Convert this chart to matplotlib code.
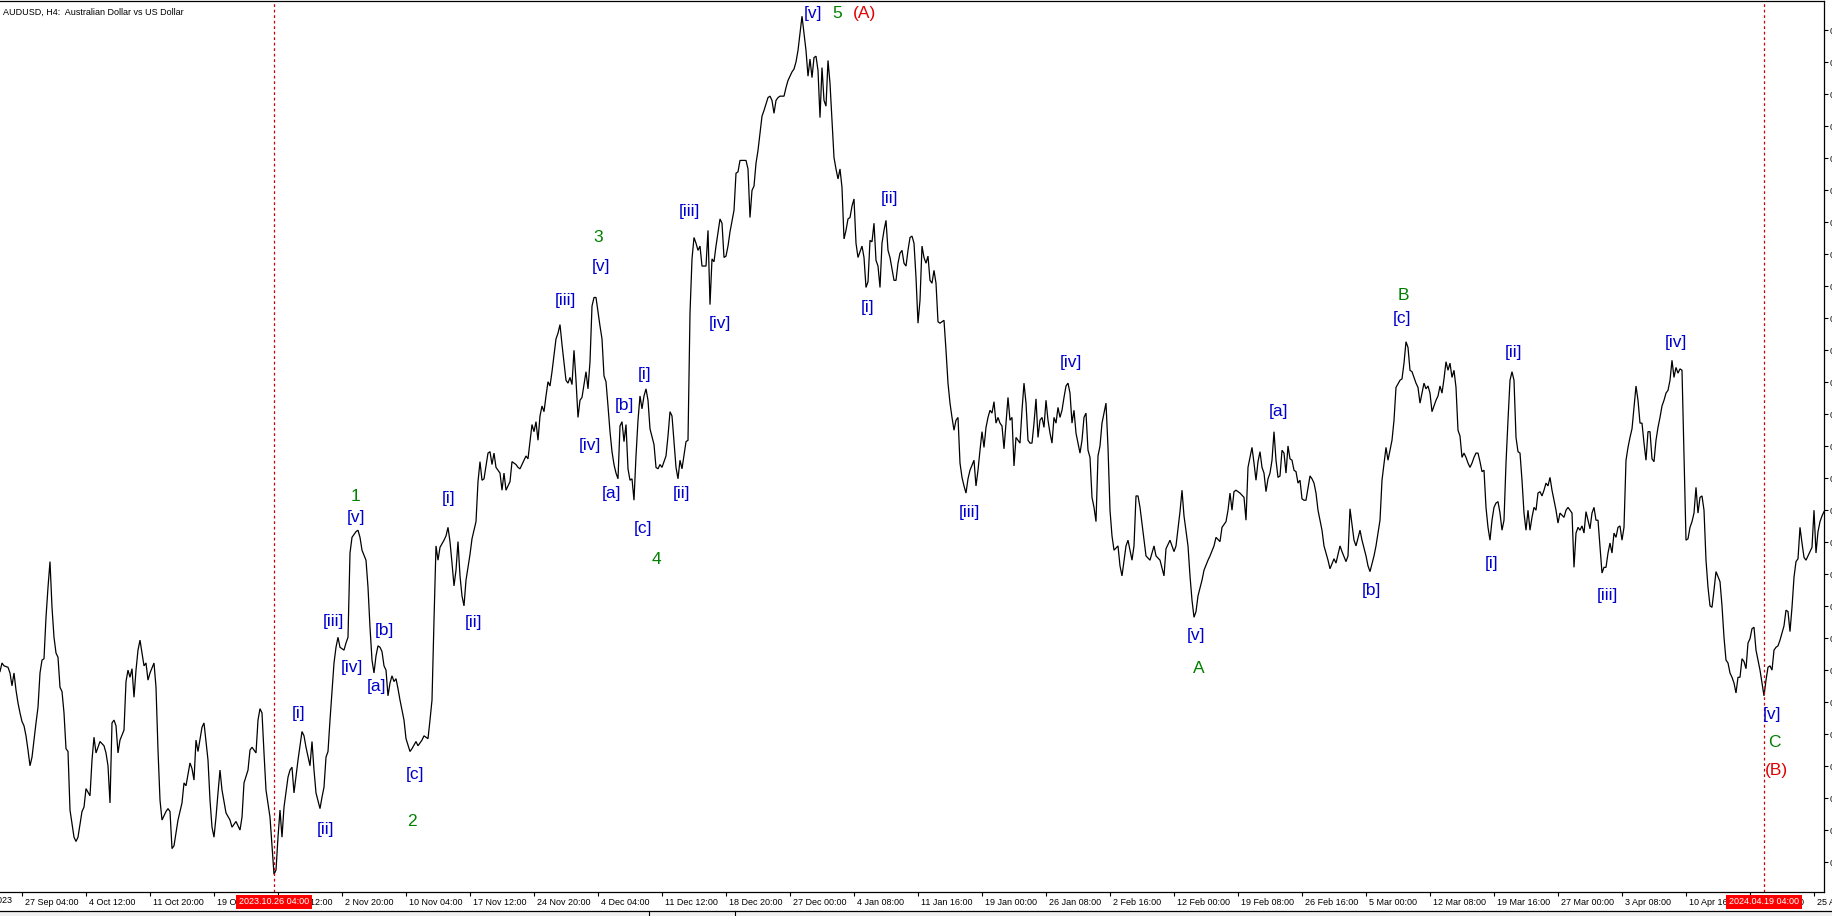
import matplotlib
matplotlib.use('Agg')
import matplotlib.pyplot as plt
import matplotlib.transforms as mtransforms
from matplotlib.lines import Line2D
from matplotlib.patches import Rectangle

plt.rcParams['font.family'] = ['Liberation Sans', 'DejaVu Sans']

# AUDUSD H4 closes, bar index -> price
bars = [
    0, 1, 2, 4, 5, 6, 7, 8, 9, 10,
    11, 12, 13, 14, 15, 16, 17, 18, 19, 20,
    21, 22, 23, 24, 25, 26, 27, 28, 29, 30,
    31, 32, 33, 34, 35, 37, 38, 39, 41, 42,
    43, 45, 46, 47, 48, 49, 50, 52, 53, 54,
    55, 56, 57, 58, 59, 60, 62, 63, 64, 65,
    66, 67, 68, 69, 70, 71, 72, 73, 74, 75,
    77, 78, 79, 80, 81, 83, 84, 85, 86, 87,
    89, 91, 92, 93, 95, 96, 97, 98, 99, 101,
    102, 104, 105, 106, 107, 108, 109, 110, 111, 113,
    115, 116, 118, 120, 121, 122, 124, 125, 126, 128,
    129, 130, 131, 132, 133, 135, 137, 138, 139, 140,
    141, 142, 144, 145, 146, 147, 149, 151, 152, 153,
    155, 156, 157, 158, 160, 161, 162, 163, 164, 165,
    167, 168, 169, 170, 172, 173, 174, 175, 176, 178,
    179, 180, 181, 183, 184, 185, 186, 187, 188, 189,
    190, 191, 192, 193, 194, 195, 196, 197, 198, 199,
    200, 202, 203, 205, 206, 208, 209, 211, 212, 214,
    215, 216, 217, 218, 219, 220, 222, 223, 224, 225,
    226, 227, 228, 229, 230, 231, 232, 233, 235, 236,
    238, 239, 240, 241, 242, 244, 245, 246, 247, 248,
    250, 251, 252, 253, 255, 256, 258, 259, 260, 261,
    263, 264, 265, 266, 267, 268, 269, 270, 271, 272,
    273, 274, 275, 276, 278, 279, 280, 281, 283, 284,
    285, 286, 287, 288, 289, 290, 291, 293, 294, 295,
    296, 297, 298, 300, 301, 302, 303, 304, 305, 306,
    307, 308, 309, 310, 311, 312, 313, 314, 315, 316,
    317, 318, 319, 320, 321, 322, 323, 324, 325, 327,
    328, 329, 330, 331, 333, 334, 335, 336, 337, 338,
    339, 340, 341, 343, 344, 345, 346, 347, 348, 349,
    350, 351, 353, 354, 355, 356, 357, 358, 360, 361,
    362, 363, 364, 365, 367, 368, 369, 370, 371, 373,
    374, 375, 376, 377, 378, 379, 381, 382, 384, 385,
    386, 387, 388, 389, 390, 392, 393, 394, 395, 396,
    397, 398, 399, 400, 401, 402, 403, 404, 405, 406,
    407, 408, 409, 410, 411, 412, 413, 414, 415, 416,
    417, 418, 419, 420, 421, 422, 423, 424, 425, 426,
    427, 428, 429, 430, 431, 432, 433, 434, 435, 436,
    437, 438, 439, 440, 441, 442, 443, 444, 445, 447,
    448, 449, 450, 451, 452, 453, 454, 455, 456, 457,
    458, 459, 460, 461, 462, 463, 464, 465, 466, 467,
    468, 469, 470, 472, 473, 474, 475, 476, 477, 478,
    479, 480, 481, 482, 483, 484, 485, 487, 488, 489,
    490, 491, 492, 493, 494, 495, 496, 497, 498, 499,
    500, 501, 502, 503, 504, 505, 506, 507, 508, 510,
    511, 512, 513, 514, 515, 516, 517, 518, 519, 520,
    521, 522, 523, 524, 525, 526, 527, 528, 529, 530,
    531, 532, 533, 534, 535, 536, 537, 538, 539, 540,
    541, 542, 543, 544, 545, 546, 547, 548, 549, 550,
    551, 552, 553, 554, 555, 556, 557, 559, 560, 561,
    563, 564, 566, 567, 568, 569, 570, 572, 573, 575,
    577, 578, 580, 582, 583, 585, 587, 588, 590, 591,
    592, 594, 595, 596, 597, 598, 599, 601, 602, 604,
    605, 607, 608, 610, 611, 613, 614, 615, 616, 617,
    618, 620, 622, 623, 624, 626, 627, 628, 629, 630,
    631, 632, 633, 634, 635, 636, 637, 638, 639, 640,
    641, 642, 643, 644, 645, 646, 647, 648, 649, 650,
    651, 652, 653, 655, 656, 657, 658, 659, 661, 662,
    664, 665, 667, 668, 670, 671, 673, 674, 675, 677,
    678, 680, 681, 683, 684, 685, 687, 688, 690, 691,
    693, 694, 695, 696, 697, 698, 700, 701, 702, 703,
    704, 705, 706, 707, 708, 709, 710, 711, 712, 713,
    714, 715, 716, 717, 718, 719, 720, 721, 722, 723,
    724, 725, 726, 727, 728, 729, 730, 731, 732, 733,
    734, 735, 736, 737, 738, 739, 740, 741, 742, 743,
    744, 745, 746, 747, 748, 749, 750, 751, 752, 753,
    754, 755, 756, 757, 758, 759, 760, 761, 762, 763,
    764, 765, 766, 767, 768, 769, 770, 771, 772, 773,
    774, 775, 776, 777, 778, 779, 780, 782, 783, 784,
    786, 787, 788, 789, 790, 791, 792, 793, 794, 795,
    796, 797, 798, 799, 800, 801, 802, 803, 804, 805,
    806, 807, 808, 809, 810, 811, 812, 813, 814, 815,
    816, 817, 818, 819, 820, 821, 822, 823, 824, 825,
    826, 827, 828, 829, 830, 831, 832, 833, 834, 835,
    836, 837, 838, 839, 840, 841, 842, 843, 844, 845,
    846, 847, 848, 849, 850, 851, 852, 853, 854, 855,
    856, 857, 858, 860, 861, 862, 863, 864, 865, 866,
    867, 868, 869, 870, 871, 872, 873, 874, 875, 876,
    877, 878, 879, 880, 881, 882, 883, 884, 885, 886,
    887, 888, 889, 890, 891, 892, 893, 894, 895, 896,
    897, 898, 899, 900, 901, 902, 903, 904, 905, 906,
    907, 908, 909, 910, 911, 912,
]

closes = [
    0.6419, 0.6425, 0.6423, 0.6422, 0.6418, 0.6409, 0.6418, 0.6406, 0.6397, 0.6390,
    0.6384, 0.6381, 0.6374, 0.6364, 0.6353, 0.6359, 0.6371, 0.6383, 0.6394, 0.6418,
    0.6427, 0.6428, 0.6457, 0.6478, 0.6496, 0.6464, 0.6443, 0.6432, 0.6429, 0.6408,
    0.6405, 0.6390, 0.6365, 0.6363, 0.6322, 0.6303, 0.6300, 0.6303, 0.6321, 0.6324,
    0.6337, 0.6332, 0.6357, 0.6373, 0.6362, 0.6366, 0.6370, 0.6367, 0.6362, 0.6353,
    0.6327, 0.6383, 0.6385, 0.6381, 0.6362, 0.6371, 0.6378, 0.6412, 0.6420, 0.6415,
    0.6421, 0.6401, 0.6420, 0.6434, 0.6441, 0.6432, 0.6423, 0.6425, 0.6413, 0.6418,
    0.6425, 0.6408, 0.6364, 0.6329, 0.6315, 0.6321, 0.6323, 0.6321, 0.6295, 0.6297,
    0.6315, 0.6327, 0.6341, 0.6339, 0.6355, 0.6351, 0.6343, 0.6371, 0.6363, 0.6380,
    0.6383, 0.6357, 0.6329, 0.6310, 0.6303, 0.6317, 0.6334, 0.6350, 0.6336, 0.6320,
    0.6315, 0.6310, 0.6314, 0.6308, 0.6317, 0.6341, 0.6350, 0.6364, 0.6366, 0.6362,
    0.6385, 0.6393, 0.6390, 0.6362, 0.6336, 0.6317, 0.6277, 0.6280, 0.6303, 0.6322,
    0.6303, 0.6324, 0.6345, 0.6350, 0.6352, 0.6334, 0.6357, 0.6377, 0.6374, 0.6366,
    0.6353, 0.6370, 0.6350, 0.6334, 0.6323, 0.6331, 0.6338, 0.6359, 0.6363, 0.6385,
    0.6425, 0.6436, 0.6443, 0.6436, 0.6434, 0.6439, 0.6443, 0.6502, 0.6513, 0.6517,
    0.6518, 0.6513, 0.6504, 0.6497, 0.6478, 0.6450, 0.6427, 0.6418, 0.6430, 0.6437,
    0.6436, 0.6433, 0.6423, 0.6420, 0.6402, 0.6411, 0.6416, 0.6412, 0.6414, 0.6407,
    0.6399, 0.6385, 0.6372, 0.6363, 0.6365, 0.6370, 0.6367, 0.6371, 0.6374, 0.6372,
    0.6385, 0.6399, 0.6455, 0.6507, 0.6497, 0.6506, 0.6511, 0.6514, 0.6520, 0.6510,
    0.6495, 0.6479, 0.6490, 0.6510, 0.6486, 0.6472, 0.6465, 0.6483, 0.6501, 0.6512,
    0.6524, 0.6552, 0.6566, 0.6553, 0.6554, 0.6572, 0.6573, 0.6564, 0.6572, 0.6562,
    0.6558, 0.6546, 0.6558, 0.6546, 0.6552, 0.6566, 0.6564, 0.6562, 0.6561, 0.6564,
    0.6570, 0.6568, 0.6580, 0.6592, 0.6587, 0.6594, 0.6581, 0.6598, 0.6605, 0.6601,
    0.6612, 0.6622, 0.6619, 0.6629, 0.6652, 0.6656, 0.6662, 0.6648, 0.6623, 0.6621,
    0.6625, 0.6620, 0.6644, 0.6623, 0.6597, 0.6609, 0.6611, 0.6629, 0.6617, 0.6636,
    0.6675, 0.6681, 0.6681, 0.6661, 0.6652, 0.6626, 0.6622, 0.6605, 0.6587, 0.6573,
    0.6564, 0.6558, 0.6554, 0.6591, 0.6594, 0.6580, 0.6592, 0.6561, 0.6553, 0.6554,
    0.6539, 0.6570, 0.6595, 0.6612, 0.6603, 0.6612, 0.6617, 0.6609, 0.6589, 0.6578,
    0.6562, 0.6561, 0.6564, 0.6562, 0.6570, 0.6584, 0.6601, 0.6598, 0.6580, 0.6562,
    0.6554, 0.6567, 0.6561, 0.6580, 0.6581, 0.6670, 0.6708, 0.6723, 0.6719, 0.6714,
    0.6717, 0.6703, 0.6703, 0.6728, 0.6676, 0.6708, 0.6706, 0.6717, 0.6736, 0.6733,
    0.6709, 0.6710, 0.6717, 0.6727, 0.6742, 0.6768, 0.6769, 0.6777, 0.6777, 0.6777,
    0.6771, 0.6737, 0.6756, 0.6759, 0.6775, 0.6784, 0.6808, 0.6812, 0.6821, 0.6822,
    0.6819, 0.6810, 0.6819, 0.6821, 0.6822, 0.6822, 0.6828, 0.6833, 0.6836, 0.6839,
    0.6841, 0.6846, 0.6854, 0.6866, 0.6878, 0.6866, 0.6854, 0.6836, 0.6848, 0.6835,
    0.6849, 0.6850, 0.6840, 0.6807, 0.6842, 0.6819, 0.6815, 0.6847, 0.6831, 0.6805,
    0.6779, 0.6771, 0.6764, 0.6771, 0.6758, 0.6722, 0.6728, 0.6736, 0.6737, 0.6745,
    0.6750, 0.6719, 0.6709, 0.6713, 0.6717, 0.6709, 0.6688, 0.6692, 0.6721, 0.6720,
    0.6733, 0.6707, 0.6703, 0.6688, 0.6719, 0.6728, 0.6735, 0.6714, 0.6709, 0.6693,
    0.6693, 0.6705, 0.6712, 0.6714, 0.6705, 0.6703, 0.6714, 0.6723, 0.6724, 0.6719,
    0.6695, 0.6663, 0.6679, 0.6717, 0.6709, 0.6705, 0.6710, 0.6693, 0.6691, 0.6700,
    0.6691, 0.6664, 0.6663, 0.6665, 0.6644, 0.6621, 0.6607, 0.6597, 0.6588, 0.6595,
    0.6597, 0.6565, 0.6555, 0.6549, 0.6544, 0.6554, 0.6560, 0.6567, 0.6549, 0.6560,
    0.6574, 0.6587, 0.6576, 0.6590, 0.6597, 0.6602, 0.6600, 0.6608, 0.6593, 0.6597,
    0.6593, 0.6591, 0.6575, 0.6593, 0.6611, 0.6595, 0.6597, 0.6563, 0.6583, 0.6579,
    0.6602, 0.6621, 0.6607, 0.6581, 0.6579, 0.6579, 0.6593, 0.6610, 0.6583, 0.6595,
    0.6597, 0.6590, 0.6609, 0.6595, 0.6586, 0.6579, 0.6597, 0.6593, 0.6604, 0.6597,
    0.6602, 0.6611, 0.6619, 0.6621, 0.6614, 0.6593, 0.6602, 0.6586, 0.6579, 0.6572,
    0.6581, 0.6597, 0.6600, 0.6574, 0.6569, 0.6541, 0.6534, 0.6524, 0.6570, 0.6577,
    0.6593, 0.6600, 0.6607, 0.6576, 0.6532, 0.6514, 0.6504, 0.6507, 0.6493, 0.6486,
    0.6507, 0.6511, 0.6497, 0.6507, 0.6542, 0.6542, 0.6534, 0.6511, 0.6500, 0.6497,
    0.6507, 0.6500, 0.6497, 0.6486, 0.6505, 0.6511, 0.6503, 0.6507, 0.6531, 0.6546,
    0.6528, 0.6507, 0.6486, 0.6469, 0.6457, 0.6461, 0.6472, 0.6483, 0.6490, 0.6497,
    0.6500, 0.6507, 0.6513, 0.6510, 0.6520, 0.6524, 0.6532, 0.6544, 0.6532, 0.6545,
    0.6546, 0.6544, 0.6541, 0.6525, 0.6562, 0.6576, 0.6565, 0.6553, 0.6566, 0.6573,
    0.6562, 0.6558, 0.6545, 0.6554, 0.6558, 0.6567, 0.6587, 0.6567, 0.6555, 0.6556,
    0.6574, 0.6572, 0.6558, 0.6577, 0.6568, 0.6567, 0.6560, 0.6559, 0.6551, 0.6553,
    0.6540, 0.6539, 0.6539, 0.6556, 0.6554, 0.6551, 0.6544, 0.6532, 0.6518, 0.6507,
    0.6497, 0.6491, 0.6498, 0.6495, 0.6507, 0.6503, 0.6496, 0.6500, 0.6533, 0.6511,
    0.6507, 0.6518, 0.6511, 0.6500, 0.6493, 0.6489, 0.6500, 0.6507, 0.6525, 0.6553,
    0.6576, 0.6567, 0.6574, 0.6581, 0.6595, 0.6618, 0.6623, 0.6624, 0.6635, 0.6650,
    0.6646, 0.6630, 0.6629, 0.6625, 0.6621, 0.6618, 0.6607, 0.6614, 0.6621, 0.6617,
    0.6619, 0.6614, 0.6601, 0.6605, 0.6609, 0.6612, 0.6619, 0.6614, 0.6624, 0.6636,
    0.6630, 0.6635, 0.6625, 0.6630, 0.6618, 0.6588, 0.6584, 0.6569, 0.6572, 0.6569,
    0.6565, 0.6562, 0.6565, 0.6569, 0.6572, 0.6572, 0.6566, 0.6559, 0.6560, 0.6534,
    0.6520, 0.6511, 0.6525, 0.6534, 0.6537, 0.6538, 0.6530, 0.6518, 0.6525, 0.6565,
    0.6595, 0.6623, 0.6629, 0.6623, 0.6583, 0.6573, 0.6572, 0.6553, 0.6530, 0.6518,
    0.6532, 0.6518, 0.6527, 0.6534, 0.6532, 0.6544, 0.6545, 0.6542, 0.6546, 0.6551,
    0.6549, 0.6555, 0.6546, 0.6539, 0.6532, 0.6523, 0.6530, 0.6527, 0.6532, 0.6534,
    0.6530, 0.6492, 0.6516, 0.6520, 0.6518, 0.6521, 0.6516, 0.6531, 0.6525, 0.6519,
    0.6530, 0.6534, 0.6525, 0.6525, 0.6506, 0.6488, 0.6492, 0.6492, 0.6502, 0.6509,
    0.6502, 0.6516, 0.6513, 0.6520, 0.6521, 0.6511, 0.6520, 0.6567, 0.6576, 0.6583,
    0.6589, 0.6604, 0.6619, 0.6609, 0.6593, 0.6593, 0.6579, 0.6567, 0.6587, 0.6587,
    0.6568, 0.6566, 0.6581, 0.6590, 0.6597, 0.6605, 0.6609, 0.6614, 0.6616, 0.6623,
    0.6637, 0.6625, 0.6632, 0.6628, 0.6631, 0.6630, 0.6572, 0.6511, 0.6512, 0.6520,
    0.6524, 0.6530, 0.6548, 0.6530, 0.6541, 0.6542, 0.6532, 0.6497, 0.6478, 0.6465,
    0.6464, 0.6476, 0.6489, 0.6482, 0.6465, 0.6443, 0.6427, 0.6425, 0.6418, 0.6415,
    0.6411, 0.6404, 0.6415, 0.6415, 0.6428, 0.6426, 0.6421, 0.6439, 0.6442, 0.6449,
    0.6450, 0.6434, 0.6427, 0.6420, 0.6411, 0.6402, 0.6413, 0.6422, 0.6423, 0.6420,
    0.6434, 0.6436, 0.6437, 0.6441, 0.6446, 0.6451, 0.6462, 0.6461, 0.6447, 0.6464,
    0.6485, 0.6496, 0.6498, 0.6520, 0.6509, 0.6499, 0.6497, 0.6500, 0.6503, 0.6506,
    0.6532, 0.6502, 0.6517, 0.6524, 0.6528, 0.6531,
]
assert len(bars) == len(closes)

# time axis labels, one every 32 H4 bars
tick_bars = [11 + 32 * k for k in range(29)]
tick_labels = ['27 Sep 04:00', '4 Oct 12:00', '11 Oct 20:00', '19 Oct 04:00',
               '26 Oct 12:00', '2 Nov 20:00', '10 Nov 04:00', '17 Nov 12:00',
               '24 Nov 20:00', '4 Dec 04:00', '11 Dec 12:00', '18 Dec 20:00',
               '27 Dec 00:00', '4 Jan 08:00', '11 Jan 16:00', '19 Jan 00:00',
               '26 Jan 08:00', '2 Feb 16:00', '12 Feb 00:00', '19 Feb 08:00',
               '26 Feb 16:00', '5 Mar 00:00', '12 Mar 08:00', '19 Mar 16:00',
               '27 Mar 00:00', '3 Apr 08:00', '10 Apr 16:00', '18 Apr 00:00',
               '25 Apr 08:00']

# vertical markers
marker_bars = [137, 882]
marker_labels = ['2023.10.26 04:00', '2024.04.19 04:00']

# wave counts: (text, bar, price, colour)
BLUE, GREEN, RED = '#0000cd', '#008000', '#e00000'
waves = [
    ('[i]', 149.5, 0.63897, BLUE), ('[ii]', 162.5, 0.63087, BLUE),
    ('[iii]', 166.7, 0.64538, BLUE), ('[iv]', 175.8, 0.64219, BLUE),
    ('[v]', 177.8, 0.65266, BLUE), ('1', 177.8, 0.65413, GREEN),
    ('[a]', 188.0, 0.64088, BLUE), ('[b]', 192.0, 0.64480, BLUE),
    ('[c]', 207.5, 0.63472, BLUE), ('2', 206.2, 0.63139, GREEN),
    ('[i]', 224.5, 0.65405, BLUE), ('[ii]', 236.7, 0.64537, BLUE),
    ('[iii]', 282.5, 0.66789, BLUE), ('[iv]', 294.8, 0.65775, BLUE),
    ('[v]', 300.6, 0.67028, BLUE), ('3', 299.2, 0.67232, GREEN),
    ('[a]', 305.8, 0.65438, BLUE), ('[b]', 312.1, 0.66052, BLUE),
    ('[c]', 321.6, 0.65190, BLUE), ('4', 328.2, 0.64973, GREEN),
    ('[i]', 322.5, 0.66272, BLUE), ('[ii]', 340.6, 0.65438, BLUE),
    ('[iii]', 344.7, 0.67412, BLUE), ('[iv]', 360.0, 0.66625, BLUE),
    ('[v]', 406.4, 0.68801, BLUE), ('5', 418.8, 0.68801, GREEN),
    ('(A)', 432.3, 0.68799, RED),
    ('[i]', 433.6, 0.66740, BLUE), ('[ii]', 444.6, 0.67501, BLUE),
    ('[iii]', 484.5, 0.65302, BLUE), ('[iv]', 535.5, 0.66352, BLUE),
    ('[v]', 598.2, 0.64441, BLUE), ('A', 599.4, 0.64212, GREEN),
    ('[a]', 639.2, 0.66013, BLUE), ('[b]', 685.8, 0.64760, BLUE),
    ('[c]', 700.8, 0.66660, BLUE), ('B', 701.8, 0.66825, GREEN),
    ('[i]', 745.7, 0.64947, BLUE), ('[ii]', 756.5, 0.66428, BLUE),
    ('[iii]', 803.7, 0.64720, BLUE), ('[iv]', 838.0, 0.66498, BLUE),
    ('[v]', 885.8, 0.63892, BLUE), ('C', 887.3, 0.63695, GREEN),
    ('(B)', 888.3, 0.63496, RED),
]

W, H = 1832, 916
fig = plt.figure(figsize=(W / 100, H / 100), dpi=100)
fig.patch.set_facecolor('white')
ax = fig.add_axes([0, (H - 892) / H, 1824 / W, 891.5 / H])

ymax = 0.6889
ymin = ymax - 892 * 0.00007
ax.set_xlim(0, 912)
ax.set_ylim(ymin, ymax)

ax.plot(bars, closes, color='black', lw=0.9, solid_joinstyle='miter')

for b in marker_bars:
    ax.axvline(b, color='#d00000', lw=0.9, dashes=(2.2, 2.2))

ax.spines['left'].set_visible(False)
for s in ('top', 'right', 'bottom'):
    ax.spines[s].set_linewidth(0.9)

# price scale on the right (mostly cut off by the window edge)
yt = [0.6868 - 0.00224 * k for k in range(27)]
ax.yaxis.tick_right()
ax.set_yticks(yt)
ax.set_yticklabels(['{:.5f}'.format(v) for v in yt])
ax.tick_params(axis='y', direction='out', length=3, width=0.8, pad=1,
               labelsize=6.5)

ax.set_xticks(tick_bars)
ax.set_xticklabels(tick_labels)
ax.tick_params(axis='x', direction='out', length=3, width=0.8, pad=1.5,
               labelsize=6.5)
shift = mtransforms.ScaledTranslation(2.5 / 72, 0, fig.dpi_scale_trans)
for lab in ax.get_xticklabels():
    lab.set_ha('left')
    lab.set_transform(lab.get_transform() + shift)

# first label sits left of the window
xt = mtransforms.blended_transform_factory(ax.transData, ax.transAxes)
ax.text(-21, -0.0045, '19 Sep 2023', transform=xt + shift, ha='left',
        va='top', fontsize=6.5, clip_on=False)

for b, lab in zip(marker_bars, marker_labels):
    ax.text(b, -10 / 891.5, lab, transform=xt, ha='center', va='center',
            color='white', fontsize=6.5, clip_on=False, zorder=10,
            bbox=dict(boxstyle='square,pad=0.28', fc='#ff0000', ec='none'))

for txt, b, p, c in waves:
    ax.text(b, p, txt, color=c, fontsize=12.5, ha='center', va='center',
            zorder=5)

fig.text(3 / W, 1 - 12 / H, 'AUDUSD, H4:  Australian Dollar vs US Dollar',
         fontsize=6.5, ha='left', va='center')

# bottom tab strip
fig.add_artist(Rectangle((0, 0), 1, 5 / H, transform=fig.transFigure,
                         fc='#f0f0f0', ec='none'))
fig.add_artist(Line2D([0, 1], [5 / H, 5 / H], transform=fig.transFigure,
                      color='black', lw=0.9))
for xp in (649, 735):
    fig.add_artist(Line2D([xp / W, xp / W], [0, 5 / H],
                          transform=fig.transFigure, color='black', lw=0.8))

fig.savefig('out.png', dpi=100)
